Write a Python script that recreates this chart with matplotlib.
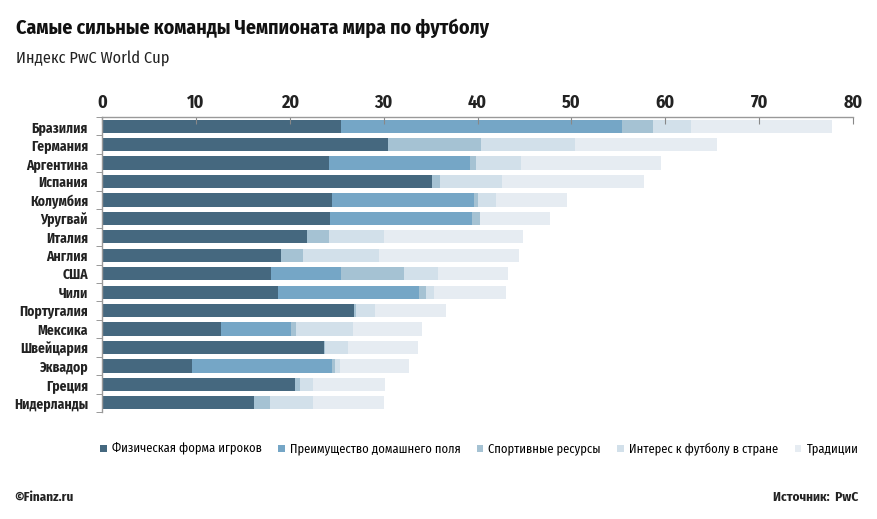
import matplotlib
matplotlib.use("Agg")
import matplotlib.pyplot as plt
from matplotlib.patches import Patch
import numpy as np

plt.rcParams['font.family'] = ['Fira Sans Condensed', 'DejaVu Sans']

countries = ["Бразилия", "Германия", "Аргентина", "Испания", "Колумбия", "Уругвай",
             "Италия", "Англия", "США", "Чили", "Португалия", "Мексика",
             "Швейцария", "Эквадор", "Греция", "Нидерланды"]
physical = [25.5, 30.5, 24.2, 35.1, 24.5, 24.3, 21.8, 19.1, 18.0, 18.8, 26.8, 12.7, 23.6, 9.6, 20.6, 16.2]
home     = [29.9, 0.0, 15.0, 0.0, 15.1, 15.1, 0.0, 0.0, 7.5, 15.0, 0.0, 7.4, 0.0, 14.9, 0.0, 0.0]
sports   = [3.3, 9.9, 0.6, 0.9, 0.4, 0.9, 2.4, 2.3, 6.7, 0.7, 0.3, 0.6, 0.2, 0.3, 0.5, 1.7]
interest = [4.0, 10.0, 4.8, 6.6, 2.0, 0.0, 5.8, 8.1, 3.6, 0.9, 2.0, 6.0, 2.4, 0.5, 1.4, 4.6]
tradition= [15.1, 15.1, 14.9, 15.1, 7.5, 7.4, 14.8, 14.9, 7.5, 7.6, 7.5, 7.4, 7.5, 7.4, 7.6, 7.5]

series_names = ["Физическая форма игроков", "Преимущество домашнего поля",
                "Спортивные ресурсы", "Интерес к футболу в стране", "Традиции"]
colors = ["#45687f", "#75a6c6", "#a5c2d3", "#d2e0ea", "#e6ecf2"]
xticks = [0, 10, 20, 30, 40, 50, 60, 70, 80]

fig = plt.figure(figsize=(8.78, 5.19), dpi=100)
ax = fig.add_axes([102/878, 1-412/519, (853-102)/878, (412-117)/519])

y = np.arange(len(countries))
left = np.zeros(len(countries))
for vals, c in zip([physical, home, sports, interest, tradition], colors):
    v = np.array(vals)
    ax.barh(y, v, left=left, height=0.72, color=c, edgecolor='none')
    left += v

ax.set_ylim(len(countries) - 0.5, -0.5)
ax.set_xlim(0, 80)
ax.xaxis.tick_top()
ax.set_xticks(xticks)
ax.set_xticklabels([str(t) for t in xticks], fontsize=13, fontweight='bold', color='#222222')
ax.tick_params(axis='x', direction='in', length=5, color='#888888', pad=4)
ax.set_yticks(y)
ax.set_yticklabels(countries, fontsize=9.8, fontweight='bold', color='#222222')
ax.tick_params(axis='y', length=0, pad=10)
ax.set_yticks(np.arange(-0.5, len(countries)), minor=True)
ax.tick_params(axis='y', which='minor', length=4, color='#888888', direction='out')

for s in ['right', 'bottom']:
    ax.spines[s].set_visible(False)
for s in ['top', 'left']:
    ax.spines[s].set_color('#999999')
    ax.spines[s].set_linewidth(1.0)

fig.text(16/878, 1-28/519, "Самые сильные команды Чемпионата мира по футболу",
         fontsize=14.3, fontweight='bold', color='#111111', va='center', ha='left')
fig.text(16/878, 1-58/519, "Индекс PwC World Cup", fontsize=11.7, color='#222222',
         va='center', ha='left', fontweight='normal')

handles = [Patch(facecolor=c, edgecolor='none') for c in colors]
fig.legend(handles, series_names, loc='center', bbox_to_anchor=(479/878, 1-449/519),
           ncol=5, frameon=False, fontsize=9, handlelength=0.55, handleheight=0.55,
           handletextpad=0.4, columnspacing=1.3)

fig.text(14/878, 1-497/519, "©Finanz.ru", fontsize=9.5, fontweight='bold', color='#222222',
         va='center', ha='left')
fig.text(858/878, 1-497/519, "Источник:  PwC", fontsize=9.5, fontweight='bold', color='#222222',
         va='center', ha='right')

fig.savefig("out.png", dpi=100, facecolor='white')
